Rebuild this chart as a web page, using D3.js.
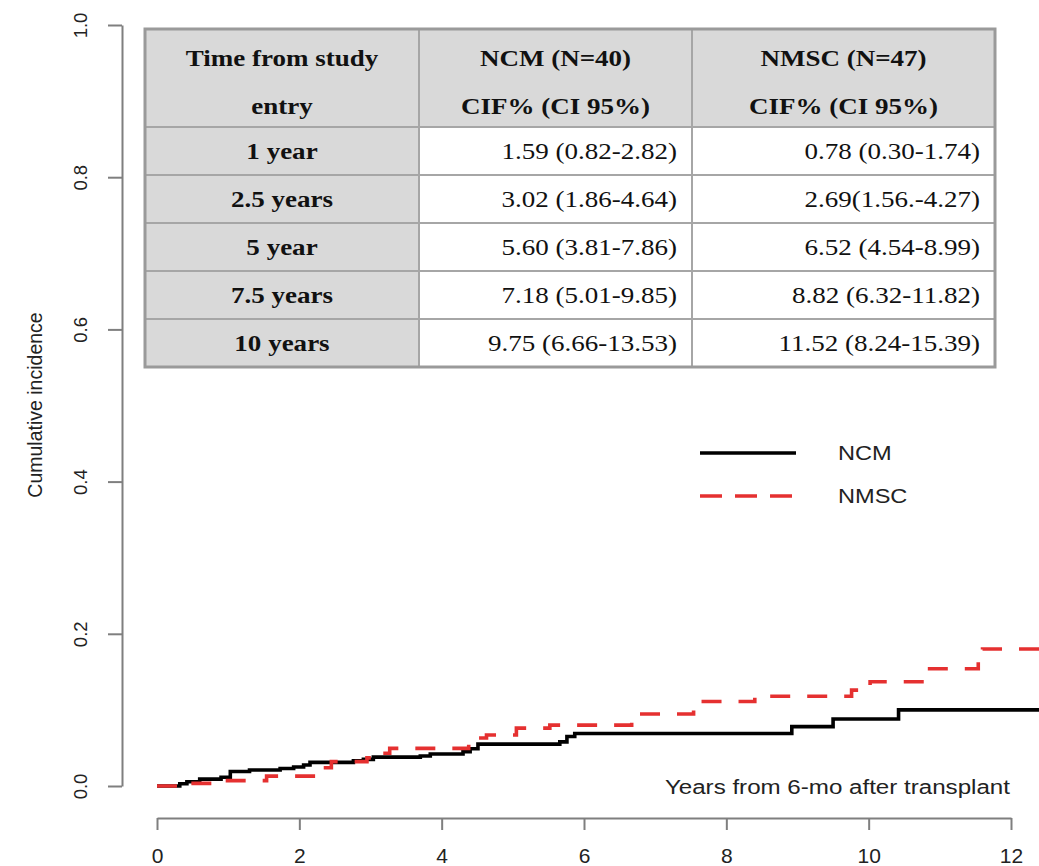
<!DOCTYPE html>
<html>
<head>
<meta charset="utf-8">
<script src="https://cdn.jsdelivr.net/npm/d3@7"></script>
<style>
  html, body { margin: 0; padding: 0; background: #ffffff; }
  svg { display: block; }
</style>
</head>
<body>
<svg id="chart" width="1039" height="866"></svg>
<script>
// Cumulative incidence step curves (time in years, cumulative incidence as a proportion)
const ncmTimes  = [0, 0.32, 0.42, 0.6, 0.9, 1.03, 1.3, 1.73, 1.92, 2.06, 2.15, 2.76, 2.9, 3.04, 3.7, 3.84, 4.3, 4.4, 4.51, 5.66, 5.76, 5.87, 8.92, 9.5, 10.42, 12.4];
const ncmValues = [0, 0.003, 0.0055, 0.009, 0.0115, 0.019, 0.021, 0.023, 0.025, 0.0275, 0.031, 0.033, 0.035, 0.038, 0.0395, 0.042, 0.045, 0.049, 0.055, 0.058, 0.065, 0.069, 0.078, 0.088, 0.100, 0.100];

const nmscTimes  = [0, 0.37, 0.79, 1.54, 2.34, 2.45, 2.95, 3.04, 3.27, 4.38, 4.47, 4.63, 5.05, 5.52, 6.67, 6.75, 7.54, 7.63, 8.4, 9.76, 10.02, 10.81, 11.54, 11.6, 12.4];
const nmscValues = [0, 0.0035, 0.007, 0.013, 0.024, 0.032, 0.037, 0.043, 0.0495, 0.058, 0.063, 0.067, 0.076, 0.080, 0.089, 0.0946, 0.103, 0.111, 0.118, 0.126, 0.137, 0.154, 0.176, 0.18, 0.18];

// Axis ticks
const xTicks = [0, 2, 4, 6, 8, 10, 12];
const yTicks = [0, 0.2, 0.4, 0.6, 0.8, 1.0];

// Legend entries
const seriesNames = ["NCM", "NMSC"];

// Inset table
const tableHeader = [["Time from study", "entry"], ["NCM (N=40)", "CIF% (CI 95%)"], ["NMSC (N=47)", "CIF% (CI 95%)"]];
const timePoints = ["1 year", "2.5 years", "5 year", "7.5 years", "10 years"];
const ncmCIF  = ["1.59 (0.82-2.82)", "3.02 (1.86-4.64)", "5.60 (3.81-7.86)", "7.18 (5.01-9.85)", "9.75 (6.66-13.53)"];
const nmscCIF = ["0.78 (0.30-1.74)", "2.69(1.56.-4.27)", "6.52 (4.54-8.99)", "8.82 (6.32-11.82)", "11.52 (8.24-15.39)"];

const svg = d3.select("#chart");
const SANS = "'Liberation Sans', Arial, sans-serif";
const SERIF = "'Liberation Serif', 'Times New Roman', serif";
const RED = "#e53030";
const AXIS = "#7f7f7f";
const WIDEN = 1.15;   // horizontal text widening used throughout the figure

// Move a text's x/y into a transform so it can be widened horizontally
function widen(sel, sx) {
  sel.each(function () {
    const t = d3.select(this);
    const tx = +t.attr("x") || 0, ty = +t.attr("y") || 0;
    t.attr("x", 0).attr("y", 0).attr("transform", `translate(${tx},${ty}) scale(${sx},1)`);
  });
  return sel;
}

const x = d3.scaleLinear().domain([0, 12]).range([157, 1011]);
const y = d3.scaleLinear().domain([0, 1]).range([786, 25]);

// ---- axes ----
const yAxis = svg.append("g")
  .attr("transform", `translate(122,0)`)
  .call(d3.axisLeft(y).tickValues(yTicks).tickFormat(d3.format(".1f")).tickSize(14).tickSizeOuter(0));
yAxis.select(".domain").attr("stroke", AXIS).attr("stroke-width", 2);
yAxis.selectAll(".tick line").attr("stroke", AXIS).attr("stroke-width", 2);
yAxis.selectAll(".tick text")
  .attr("transform", "rotate(-90)")
  .attr("x", 0).attr("y", -42).attr("dy", "0.36em")
  .attr("text-anchor", "middle")
  .attr("font-family", SANS).attr("font-size", 18.5).attr("fill", "#222");

const xAxis = svg.append("g")
  .attr("transform", `translate(0,818)`)
  .call(d3.axisBottom(x).tickValues(xTicks).tickFormat(d3.format("d")).tickSize(12).tickSizeOuter(0));
xAxis.select(".domain").attr("stroke", AXIS).attr("stroke-width", 2);
xAxis.selectAll(".tick line").attr("stroke", AXIS).attr("stroke-width", 2);
xAxis.selectAll(".tick text")
  .attr("y", 37).attr("dy", "0.36em")
  .attr("font-family", SANS).attr("font-size", 21).attr("fill", "#222");

// axis titles
svg.append("text")
  .attr("transform", "translate(35,405) rotate(-90)")
  .attr("text-anchor", "middle").attr("dy", "0.36em")
  .attr("font-family", SANS).attr("font-size", 19.5).attr("fill", "#222")
  .text("Cumulative incidence");

widen(svg.append("text")
  .attr("x", 1010).attr("y", 786).attr("dy", "0.36em")
  .attr("text-anchor", "end")
  .attr("font-family", SANS).attr("font-size", 21).attr("fill", "#222")
  .text("Years from 6-mo after transplant"), WIDEN);

// ---- curves ----
const line = d3.line()
  .x(d => x(d[0]))
  .y(d => y(d[1]))
  .curve(d3.curveStepAfter);

const ncmData = ncmTimes.map((t, i) => [t, ncmValues[i]]);
const nmscData = nmscTimes.map((t, i) => [t, nmscValues[i]]);

svg.append("path")
  .datum(ncmData)
  .attr("d", line)
  .attr("fill", "none").attr("stroke", "#000").attr("stroke-width", 3.6);

svg.append("path")
  .datum(nmscData)
  .attr("d", line)
  .attr("fill", "none").attr("stroke", RED).attr("stroke-width", 3.6)
  .attr("stroke-dasharray", "20,17");

// ---- legend ----
const legend = svg.append("g");
const legendStyles = [
  { stroke: "#000", dash: null },
  { stroke: RED, dash: "22,13" }
];
seriesNames.forEach((name, i) => {
  const ly = 453 + i * 43;
  legend.append("line")
    .attr("x1", 700).attr("x2", 796).attr("y1", ly).attr("y2", ly)
    .attr("stroke", legendStyles[i].stroke).attr("stroke-width", 3.6)
    .attr("stroke-dasharray", legendStyles[i].dash);
  widen(legend.append("text")
    .attr("x", 838).attr("y", ly).attr("dy", "0.36em")
    .attr("font-family", SANS).attr("font-size", 20.5).attr("fill", "#222")
    .text(name), WIDEN);
});

// ---- inset table ----
const colX = [145, 419, 692, 995];
const headerTop = 29, headerBottom = 127, rowH = 48;
const table = svg.append("g");
const GRID = "#a6a6a6";
const SHADE = "#d9d9d9";
const TABLE_FONT = 23.5;

// header cells
tableHeader.forEach((lines, c) => {
  table.append("rect")
    .attr("x", colX[c]).attr("y", headerTop)
    .attr("width", colX[c + 1] - colX[c]).attr("height", headerBottom - headerTop)
    .attr("fill", SHADE).attr("stroke", GRID).attr("stroke-width", 2);
  lines.forEach((txt, k) => {
    widen(table.append("text")
      .attr("x", (colX[c] + colX[c + 1]) / 2)
      .attr("y", 58 + k * 48).attr("dy", "0.35em")
      .attr("text-anchor", "middle")
      .attr("font-family", SERIF).attr("font-weight", "bold").attr("font-size", TABLE_FONT)
      .attr("fill", "#111")
      .text(txt), WIDEN);
  });
});

// body rows
timePoints.forEach((label, r) => {
  const ry = headerBottom + r * rowH;
  const cells = [label, ncmCIF[r], nmscCIF[r]];
  cells.forEach((txt, c) => {
    table.append("rect")
      .attr("x", colX[c]).attr("y", ry)
      .attr("width", colX[c + 1] - colX[c]).attr("height", rowH)
      .attr("fill", c === 0 ? SHADE : "#ffffff")
      .attr("stroke", GRID).attr("stroke-width", 2);
    const t = table.append("text")
      .attr("y", ry + rowH / 2).attr("dy", "0.35em")
      .attr("font-family", SERIF).attr("font-size", TABLE_FONT).attr("fill", "#111")
      .text(txt);
    if (c === 0) {
      t.attr("x", (colX[0] + colX[1]) / 2).attr("text-anchor", "middle").attr("font-weight", "bold");
    } else {
      t.attr("x", colX[c + 1] - 15).attr("text-anchor", "end");
    }
    widen(t, WIDEN);
  });
});

// outer frame
table.append("rect")
  .attr("x", colX[0]).attr("y", headerTop)
  .attr("width", colX[3] - colX[0]).attr("height", headerBottom + rowH * timePoints.length - headerTop)
  .attr("fill", "none").attr("stroke", "#9a9a9a").attr("stroke-width", 3);
</script>
</body>
</html>
